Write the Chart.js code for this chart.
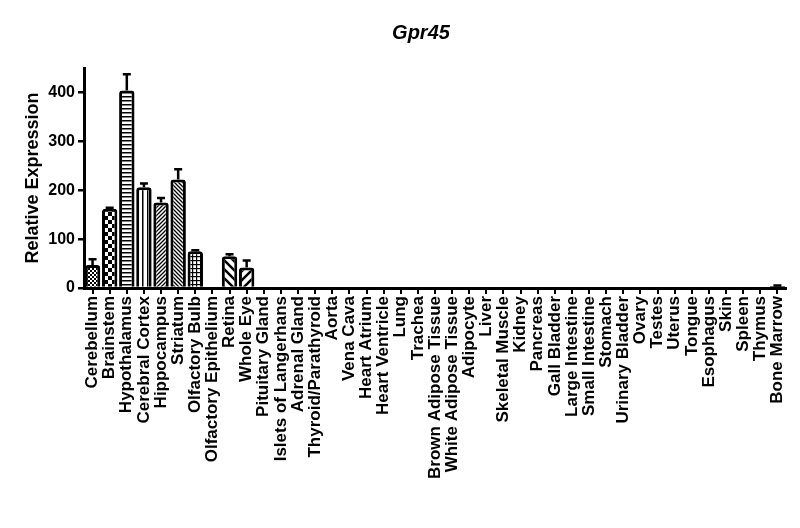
<!DOCTYPE html>
<html lang="en">
<head>
    <meta charset="UTF-8">
    <script src="https://cdn.jsdelivr.net/npm/chart.js"></script>
    <title>Gpr45</title>
    <style>
        html, body { margin: 0; padding: 0; background: #fff; }
    </style>
</head>
<body>
    <div style="width: 800px; height: 528px;">
        <canvas id="myChart" width="800" height="528"></canvas>
    </div>

    <script>
        const tissues = [
            'Cerebellum', 'Brainstem', 'Hypothalamus', 'Cerebral Cortex', 'Hippocampus',
            'Striatum', 'Olfactory Bulb', 'Olfactory Epithelium', 'Retina', 'Whole Eye',
            'Pituitary Gland', 'Islets of Langerhans', 'Adrenal Gland', 'Thyroid/Parathyroid', 'Aorta',
            'Vena Cava', 'Heart Atrium', 'Heart Ventricle', 'Lung', 'Trachea',
            'Brown Adipose Tissue', 'White Adipose Tissue', 'Adipocyte', 'Liver', 'Skeletal Muscle',
            'Kidney', 'Pancreas', 'Gall Bladder', 'Large Intestine', 'Small Intestine',
            'Stomach', 'Urinary Bladder', 'Ovary', 'Testes', 'Uterus',
            'Tongue', 'Esophagus', 'Skin', 'Spleen', 'Thymus', 'Bone Marrow'
        ];
        const expression = [
            47, 162, 404, 206, 175, 222, 75, 0, 65, 42,
            0, 0, 0, 0, 0, 0, 0, 0, 0, 0,
            0, 0, 0, 0, 0, 0, 0, 0, 0, 0,
            0, 0, 0, 0, 0, 0, 0, 0, 0, 0, 4
        ];
        const sem = [
            12, 2, 33, 8, 9, 21, 2, 0, 4, 14,
            0, 0, 0, 0, 0, 0, 0, 0, 0, 0,
            0, 0, 0, 0, 0, 0, 0, 0, 0, 0,
            0, 0, 0, 0, 0, 0, 0, 0, 0, 0, 1
        ];
        const yTicks = [0, 100, 200, 300, 400];

        // hatch fills, GraphPad style
        function makePattern(size, drawFn) {
            const c = document.createElement('canvas');
            c.width = size; c.height = size;
            const g = c.getContext('2d');
            g.fillStyle = '#fff';
            g.fillRect(0, 0, size, size);
            g.fillStyle = '#000';
            g.strokeStyle = '#000';
            drawFn(g, size);
            return g.createPattern(c, 'repeat');
        }
        const ctx = document.getElementById('myChart').getContext('2d');
        const checkers = (cell) => makePattern(cell * 2, (g, s) => {
            g.fillRect(0, 0, cell, cell);
            g.fillRect(cell, cell, cell, cell);
        });
        const hLines = makePattern(4, (g, s) => { g.fillRect(0, 0, s, 1.5); });
        const vLines = makePattern(5, (g, s) => { g.fillRect(2, 0, 1.5, s); });
        const grid = makePattern(4, (g, s) => { g.fillRect(0, 0, s, 1.2); g.fillRect(0, 0, 1.2, s); });
        const diag = (s, w, up) => makePattern(s, (g) => {
            g.lineWidth = w;
            g.beginPath();
            if (up) {
                g.moveTo(-1, s + 1); g.lineTo(s + 1, -1);
                g.moveTo(-1, 1); g.lineTo(1, -1);
                g.moveTo(s - 1, s + 1); g.lineTo(s + 1, s - 1);
            } else {
                g.moveTo(-1, -1); g.lineTo(s + 1, s + 1);
                g.moveTo(s - 1, -1); g.lineTo(s + 1, 1);
                g.moveTo(-1, s - 1); g.lineTo(1, s + 1);
            }
            g.stroke();
        });
        const fills = tissues.map(() => '#fff');
        fills[0] = checkers(2);
        fills[1] = checkers(4);
        fills[2] = hLines;
        fills[3] = vLines;
        fills[4] = diag(4, 1.3, true);
        fills[5] = diag(4, 1.3, false);
        fills[6] = grid;
        fills[8] = diag(9, 2.5, false);
        fills[9] = diag(9, 2.5, true);
        fills[40] = '#000';

        const errorBars = {
            id: 'errorBars',
            afterDatasetsDraw(chart) {
                const meta = chart.getDatasetMeta(0);
                const y = chart.scales.y;
                const c = chart.ctx;
                c.save();
                c.strokeStyle = '#000';
                c.lineWidth = 2.5;
                meta.data.forEach((bar, i) => {
                    if (!sem[i]) return;
                    const y0 = y.getPixelForValue(expression[i]);
                    const y1 = y.getPixelForValue(expression[i] + sem[i]);
                    c.beginPath();
                    c.moveTo(bar.x, y0);
                    c.lineTo(bar.x, y1);
                    c.moveTo(bar.x - 4, y1);
                    c.lineTo(bar.x + 4, y1);
                    c.stroke();
                });
                c.restore();
            }
        };

        const chartTitle = {
            id: 'chartTitle',
            afterDraw(chart) {
                const c = chart.ctx;
                c.save();
                c.font = 'italic bold 20px "Liberation Sans", Arial, sans-serif';
                c.fillStyle = '#000';
                c.textAlign = 'center';
                c.textBaseline = 'middle';
                c.fillText('Gpr45', 421, 33);
                c.restore();
            }
        };

        const font = { family: '"Liberation Sans", Arial, sans-serif', weight: 'bold' };

        const myChart = new Chart(ctx, {
            type: 'bar',
            data: {
                labels: tissues,
                datasets: [{
                    label: 'Gpr45',
                    data: expression,
                    backgroundColor: fills,
                    borderColor: '#000',
                    borderWidth: 3,
                    borderRadius: { topLeft: 3, topRight: 3 },
                    categoryPercentage: 0.9,
                    barPercentage: 1
                }]
            },
            options: {
                responsive: false,
                animation: false,
                layout: { padding: { top: 68, right: 14, left: 0, bottom: 0 } },
                scales: {
                    x: {
                        grid: { display: true, drawOnChartArea: false, offset: false, color: '#000', lineWidth: 2, tickLength: 6 },
                        border: { display: true, color: '#000', width: 3 },
                        ticks: {
                            color: '#000',
                            font: { ...font, size: 17 },
                            minRotation: 90,
                            maxRotation: 90,
                            autoSkip: false,
                            padding: 2
                        },
                        afterFit: (scale) => { scale.height = 240; }
                    },
                    y: {
                        min: 0,
                        max: 450,
                        afterBuildTicks: (scale) => { scale.ticks = yTicks.map(v => ({ value: v })); },
                        grid: { display: true, drawOnChartArea: false, color: '#000', lineWidth: 2.5, tickLength: 6 },
                        border: { display: true, color: '#000', width: 3 },
                        ticks: { color: '#000', font: { ...font, size: 16 }, padding: 3 },
                        title: {
                            display: true,
                            text: 'Relative Expression',
                            color: '#000',
                            font: { ...font, size: 18 },
                            padding: { top: 22, bottom: 0 }
                        },
                        afterFit: (scale) => { scale.width = 84; }
                    }
                },
                plugins: {
                    legend: { display: false },
                    tooltip: { enabled: false }
                }
            },
            plugins: [errorBars, chartTitle]
        });
    </script>
</body>
</html>
